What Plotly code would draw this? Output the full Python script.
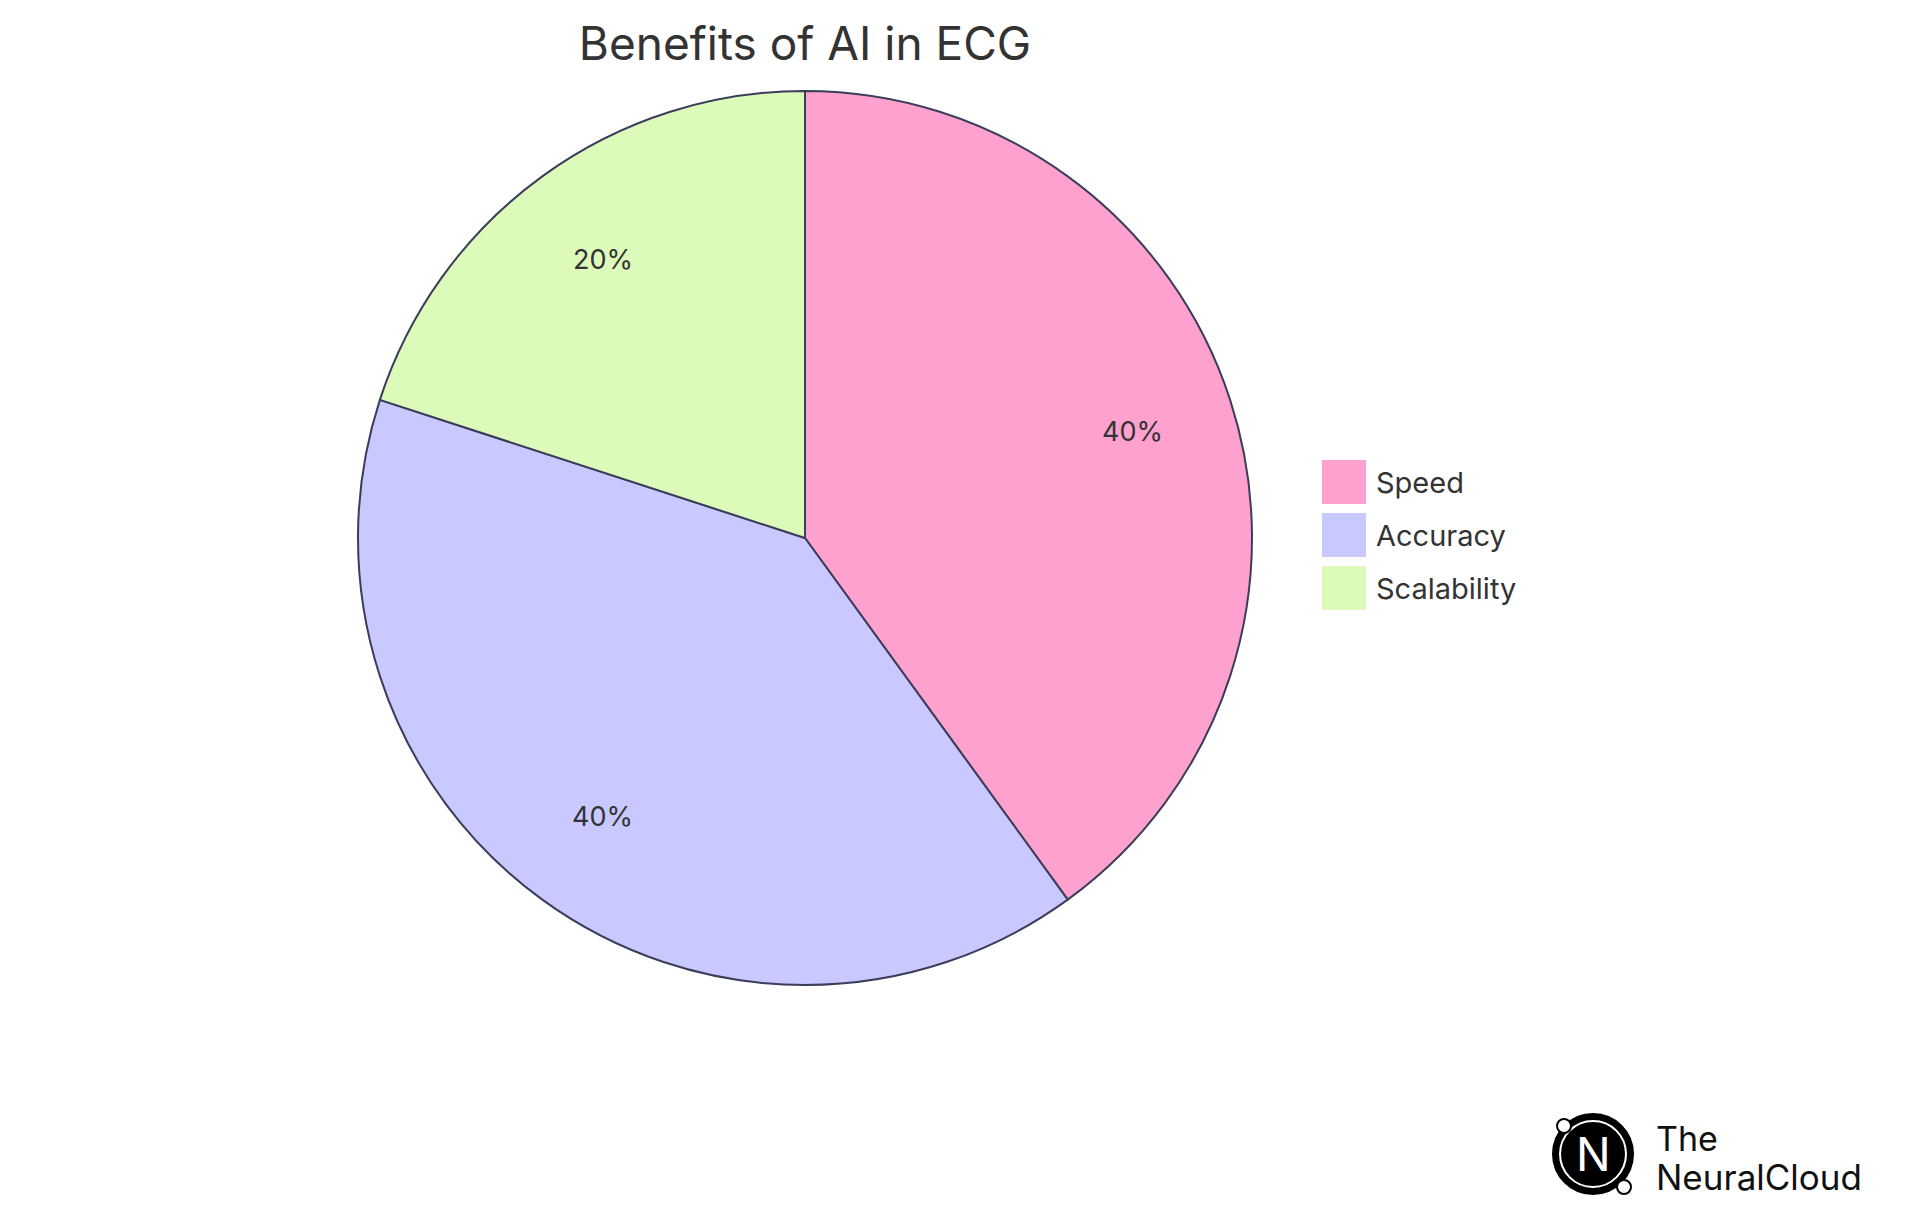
import math
import plotly.graph_objects as go

labels = ["Speed", "Accuracy", "Scalability"]
values = [40, 40, 20]
colors = ["#FFA1CE", "#C9C9FF", "#DCFABA"]

W, H = 1920, 1215
cx, cy, r = 797, 530, 447  # pie centre / radius in pixels


def px(x):
    return x / W


def py(y):
    return 1 - y / H


fig = go.Figure()

fig.add_trace(go.Pie(
    labels=labels,
    values=values,
    sort=False,
    direction="clockwise",
    rotation=0,
    marker=dict(colors=colors, line=dict(color="#3b3d5a", width=2)),
    textinfo="none",
    showlegend=False,
    domain=dict(x=[px(cx - r), px(cx + r)], y=[py(cy + r), py(cy - r)]),
))

# percent labels, placed at ~0.77 of the radius in the middle of each slice
total = sum(values)
start = 0
for v in values:
    mid = (start + v / 2) / total * 2 * math.pi
    start += v
    lx = cx + 0.77 * r * math.sin(mid)
    ly = cy - 0.77 * r * math.cos(mid)
    fig.add_annotation(x=px(lx), y=py(ly), xref="paper", yref="paper", showarrow=False,
                       xanchor="center", yanchor="middle",
                       text=f"{round(v / total * 100)}%", font=dict(size=27, color="#333333"))

# legend drawn by hand to get the large swatches
for i, (lab, col) in enumerate(zip(labels, colors)):
    y0 = 452 + i * 53
    fig.add_shape(type="rect", xref="paper", yref="paper",
                  x0=px(1314), x1=px(1358), y0=py(y0 + 44), y1=py(y0),
                  fillcolor=col, line=dict(width=0))
    fig.add_annotation(x=px(1366), y=py(y0 + 22), xref="paper", yref="paper",
                       xanchor="left", yanchor="middle",
                       showarrow=False, text=lab, font=dict(size=29, color="#333333"))

# logo bottom right
lx0, ly0 = 1585, 1146
fig.add_shape(type="circle", xref="paper", yref="paper",
              x0=px(lx0 - 40), x1=px(lx0 + 40), y0=py(ly0 + 40), y1=py(ly0 - 40),
              fillcolor="black", line=dict(color="black", width=2))
fig.add_shape(type="circle", xref="paper", yref="paper",
              x0=px(lx0 - 33), x1=px(lx0 + 33), y0=py(ly0 + 33), y1=py(ly0 - 33),
              fillcolor="black", line=dict(color="white", width=2))
fig.add_shape(type="circle", xref="paper", yref="paper",
              x0=px(lx0 - 36), x1=px(lx0 - 22), y0=py(ly0 - 21), y1=py(ly0 - 35),
              fillcolor="white", line=dict(color="black", width=2))
fig.add_shape(type="circle", xref="paper", yref="paper",
              x0=px(lx0 + 24), x1=px(lx0 + 38), y0=py(ly0 + 40), y1=py(ly0 + 26),
              fillcolor="white", line=dict(color="black", width=2))
fig.add_annotation(x=px(lx0), y=py(ly0), xref="paper", yref="paper",
                   xanchor="center", yanchor="middle",
                   text="N", showarrow=False, font=dict(size=46, color="white"))
fig.add_annotation(x=px(1646), y=py(1130), xref="paper", yref="paper",
                   xanchor="left", yanchor="middle",
                   text="The", showarrow=False, font=dict(size=34, color="#111111"))
fig.add_annotation(x=px(1646), y=py(1169), xref="paper", yref="paper",
                   xanchor="left", yanchor="middle",
                   text="NeuralCloud", showarrow=False, font=dict(size=35, color="#111111"))

fig.update_layout(
    width=W, height=H,
    title=dict(text="Benefits of AI in ECG", x=px(cx), xanchor="center",
               y=py(36), yanchor="middle",
               font=dict(size=46, color="#333333")),
    font=dict(family="Inter", color="#333333"),
    margin=dict(l=0, r=0, t=0, b=0),
    paper_bgcolor="white",
)

fig.write_html("out.html")
